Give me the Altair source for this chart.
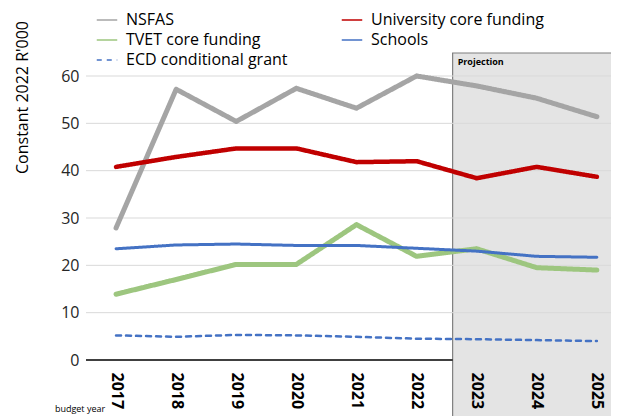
import altair as alt
import pandas as pd

years = [2017, 2018, 2019, 2020, 2021, 2022, 2023, 2024, 2025]
series_names = ["NSFAS", "University core funding", "TVET core funding", "Schools", "ECD conditional grant"]
nsfas = [27.9, 57.2, 50.4, 57.4, 53.2, 60.0, 57.9, 55.3, 51.4]
university = [40.8, 42.9, 44.7, 44.7, 41.8, 42.0, 38.4, 40.8, 38.7]
tvet = [13.9, 17.0, 20.2, 20.2, 28.6, 21.9, 23.5, 19.5, 19.0]
schools = [23.5, 24.3, 24.5, 24.2, 24.2, 23.6, 23.0, 21.9, 21.7]
ecd = [5.2, 4.9, 5.3, 5.2, 4.9, 4.5, 4.4, 4.2, 4.0]
# legend fills column by column, so this order gives the two-column row layout
legend_order = ["NSFAS", "TVET core funding", "ECD conditional grant", "University core funding", "Schools"]
color_map = {"NSFAS": "#A5A5A5", "University core funding": "#C00000", "TVET core funding": "#9DC67F",
             "Schools": "#4472C4", "ECD conditional grant": "#4472C4"}
width_map = {"NSFAS": 5, "University core funding": 4.5, "TVET core funding": 5,
             "Schools": 3, "ECD conditional grant": 2.5}
dash_map = {"NSFAS": [1, 0], "University core funding": [1, 0], "TVET core funding": [1, 0],
            "Schools": [1, 0], "ECD conditional grant": [5, 5]}
y_ticks = [0, 10, 20, 30, 40, 50, 60]
grid_values = [10, 20, 30, 40, 50, 60]
proj_start = 2022.6
proj_top = 64.86
proj_bottom = -14
x_min, x_max = 2016.5, 2025.235

all_vals = [nsfas, university, tvet, schools, ecd]
rows = []
for name, vals in zip(series_names, all_vals):
    for yr, v in zip(years, vals):
        rows.append({"year": yr, "value": v, "series": name})
df = pd.DataFrame(rows)

FONT = "Open Sans"

xscale = alt.Scale(domain=[x_min, x_max], nice=False, zero=False)
yscale = alt.Scale(domain=[0, 60], nice=False)

shade = alt.Chart(pd.DataFrame({"x": [proj_start], "x2": [2025.6], "y": [proj_top], "y2": [proj_bottom]})).mark_rect(
    fill="#E4E4E4", stroke="#7F7F7F", strokeWidth=1.2, clip=False
).encode(
    x=alt.X("x:Q", scale=xscale, axis=alt.Axis(
        values=years, format="d", labelAngle=90, labelFontWeight="bold", labelFontSize=16,
        labelFont=FONT, labelColor="#000000", ticks=False, grid=False, domain=False,
        labelPadding=12, title=None, zindex=1, labelFlush=False, labelOverlap=False
    )),
    x2="x2:Q",
    y=alt.Y("y:Q", scale=yscale, axis=alt.Axis(
        values=y_ticks, labelFontSize=16, labelFont=FONT, labelColor="#262626", ticks=False,
        domain=False, grid=False, labelPadding=7, title="Constant 2022 R'000", titleFont=FONT,
        titleFontSize=16, titleFontWeight="normal", titleColor="#000000", titleAngle=-90,
        titleX=-64, titleY=21, titleAlign="center", titleBaseline="middle"
    )),
    y2="y2:Q",
)

baseline = alt.Chart(pd.DataFrame({"x": [x_min], "x2": [proj_start], "y": [0]})).mark_rule(
    color="#000000", strokeWidth=1.5
).encode(x=alt.X("x:Q", scale=xscale), x2="x2:Q", y=alt.Y("y:Q", scale=yscale))

grid = alt.Chart(pd.DataFrame({"g": grid_values})).mark_rule(color="#D9D9D9", strokeWidth=1).encode(
    y=alt.Y("g:Q", scale=yscale)
)

lines = alt.Chart(df).mark_line(strokeCap="round", strokeJoin="round").encode(
    x=alt.X("year:Q", scale=xscale),
    y=alt.Y("value:Q", scale=yscale),
    color=alt.Color("series:N", scale=alt.Scale(domain=legend_order, range=[color_map[s] for s in legend_order]),
                    legend=alt.Legend(orient="none", legendX=10, legendY=-67, columns=2,
                                      columnPadding=50, rowPadding=1, symbolType="stroke",
                                      symbolSize=420, labelFontSize=16, labelFont=FONT,
                                      labelColor="#000000", title=None, labelOffset=8, labelLimit=400)),
    strokeWidth=alt.StrokeWidth("series:N", scale=alt.Scale(type="ordinal", domain=legend_order,
                                range=[width_map[s] for s in legend_order]), legend=None),
    strokeDash=alt.StrokeDash("series:N", scale=alt.Scale(domain=legend_order,
                              range=[dash_map[s] for s in legend_order]), legend=None),
    order=alt.Order("ord:Q"),
).transform_calculate(
    ord="indexof(['ECD conditional grant','Schools','TVET core funding','University core funding','NSFAS'], datum.series)"
)

proj_text = alt.Chart(pd.DataFrame({"x": [proj_start], "y": [proj_top], "t": ["Projection"]})).mark_text(
    align="left", baseline="top", dx=5, dy=5, fontSize=9, fontWeight="bold", font=FONT, color="#000000"
).encode(x=alt.X("x:Q", scale=xscale), y=alt.Y("y:Q", scale=yscale), text="t:N")

budget_text = alt.Chart(pd.DataFrame({"t": ["budget year"]})).mark_text(
    align="center", baseline="middle", fontSize=9, font=FONT, color="#000000"
).encode(x=alt.value(-6), y=alt.value(333), text="t:N")

chart = alt.layer(shade, baseline, grid, lines, proj_text, budget_text).properties(
    width=525, height=284,
    autosize=alt.AutoSizeParams(type="none"),
    padding={"left": 78, "top": 68, "right": 0, "bottom": 56},
).configure_view(stroke=None).resolve_scale(strokeWidth="independent")

chart.save("out.html", embed_options={"renderer": "svg", "actions": False})
